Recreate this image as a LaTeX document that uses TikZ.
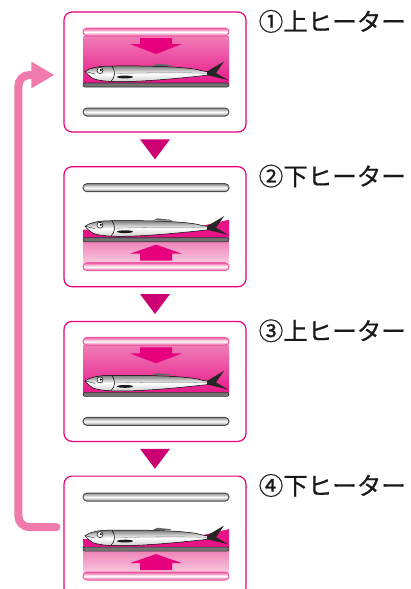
\documentclass[tikz,border=0pt]{standalone}
\usepackage{fontspec}
\newfontfamily\jpfont[FakeBold=0.6]{Noto Sans CJK JP}
\usetikzlibrary{arrows.meta,positioning,calc}

\definecolor{ovenmag}{RGB}{230,0,126}
\definecolor{markmag}{RGB}{204,0,115}
\definecolor{glowdark}{RGB}{232,20,135}
\definecolor{glowlight}{RGB}{239,125,182}
\definecolor{glowpale}{RGB}{248,200,222}
\definecolor{heatpink}{RGB}{236,90,160}
\definecolor{looppink}{RGB}{240,122,172}

\begin{document}
\begin{tikzpicture}[
  x=1pt, y=1pt,
  panel/.style={rectangle, draw=ovenmag, line width=1.2pt, rounded corners=8pt,
    fill=white, minimum width=182pt, minimum height=120pt, inner sep=0pt},
  stagelbl/.style={font=\jpfont\fontsize{24.5}{28}\selectfont, anchor=west,
    inner sep=0pt, text=black!90},
  hotbar/.style={draw=heatpink, line width=1pt, top color=heatpink,
    bottom color=heatpink, middle color=white, rounded corners=4pt},
  coldbar/.style={draw=black!70, line width=1pt, top color=black!45,
    bottom color=black!45, middle color=white, rounded corners=4pt},
  grillbar/.style={draw=black!80, fill=black!55, line width=0.6pt, rounded corners=2pt},
  heatarrow/.style={fill=ovenmag},
  stepmark/.style={fill=markmag},
  repeatline/.style={draw=looppink, line width=8pt, line cap=round,
    rounded corners=11pt, -{Triangle[length=23pt, width=25pt]}},
  % the fish, head tip at the origin
  pics/saury/.style={code={
    \draw[line width=0.5pt, top color=black!55, bottom color=black!20, middle color=white]
      (0,0) .. controls (5,3.5) and (12,5) .. (22,5.4)
      .. controls (60,6) and (95,5) .. (112,2)
      .. controls (117,0.5) and (120,0) .. (124,-0.3)
      -- (124,-3.5)
      .. controls (110,-5) and (80,-8.5) .. (50,-9.8)
      .. controls (30,-10.5) and (15,-10) .. (8,-7)
      .. controls (4,-4.5) and (1,-1.5) .. cycle;
    \fill[black!85] (122,0) -- (139,10) -- (131,-1.5) -- (143,-8.5) -- (122,-3.6) -- cycle;
    \fill[black!60] (68,5.8) -- (72,7.8) -- (85,6.6) -- (87,5.4) -- cycle;
    \draw[line width=0.5pt] (27,5.3) .. controls (31,0) and (30,-6) .. (26,-9.8);
    \draw[line width=0.3pt] (0,0) -- (10,-2.5);
    \draw[line width=0.5pt, fill=white] (15,1) circle (3pt);
    \fill (15.8,1.4) circle (1.2pt);
    \fill[black!90] (40,-5.5) ellipse (8pt and 1.4pt);
    \draw[black!50, line width=0.3pt] (31,-2) .. controls (70,-1) and (100,-1) .. (122,-1.8);
  }},
  % heating from above
  pics/top heat/.style={code={
    \shade[top color=glowlight, bottom color=glowdark] (-72,36) rectangle (74,-13);
    \fill[heatarrow] (-15,34) -- (17,34) -- (17,28) -- (27,28) -- (1,18) -- (-25,28) -- (-15,28) -- cycle;
    \draw[hotbar] (-72,36) rectangle (74,44);
    \pic at (-70,0.5) {saury};
    \draw[grillbar] (-72,-15) rectangle (74,-11);
    \draw[coldbar] (-72,-44) rectangle (74,-36);
  }},
  % heating from below
  pics/bottom heat/.style={code={
    \fill[glowdark] (-72,-13) -- (-72,-3) -- (30,-3) -- (74,7) -- (74,-13) -- cycle;
    \shade[top color=glowlight, bottom color=glowpale] (-72,-13) rectangle (74,-36);
    \fill[heatarrow] (-15,-34) -- (17,-34) -- (17,-27) -- (27,-27) -- (1,-18) -- (-25,-27) -- (-15,-27) -- cycle;
    \draw[coldbar] (-72,35) rectangle (74,43);
    \pic at (-70,0.5) {saury};
    \draw[grillbar] (-72,-15) rectangle (74,-11);
    \draw[hotbar] (-72,-44) rectangle (74,-36);
  }}
]
  \useasboundingbox (0,0) rectangle (410,-589);

  \node[panel] (p1) at (155,-72) {};
  \node[panel, below=33.5pt of p1] (p2) {};
  \node[panel, below=33.5pt of p2] (p3) {};
  \node[panel, below=33.5pt of p3] (p4) {};

  \pic at (p1) {top heat};
  \pic at (p2) {bottom heat};
  \pic at (p3) {top heat};
  \pic at (p4) {bottom heat};

  \foreach \n/\txt in {1/①上ヒーター, 2/②下ヒーター, 3/③上ヒーター, 4/④下ヒーター}
    \node[stagelbl] (l\n) at ([xshift=12pt,yshift=-10pt]p\n.north east) {\txt};

  % marks between the steps
  \foreach \a/\b in {p1/p2, p2/p3, p3/p4}
    \fill[stepmark] ($(\a.south)!0.5!(\b.north)+(0,-10)$) -- +(15,20) -- +(-15,20) -- cycle;

  % back to the first step
  \draw[repeatline] ([xshift=-7pt,yshift=9pt]p4.west) -- ++(-38pt,0) |- ([xshift=-9pt,yshift=-3pt]p1.west);
\end{tikzpicture}
\end{document}
